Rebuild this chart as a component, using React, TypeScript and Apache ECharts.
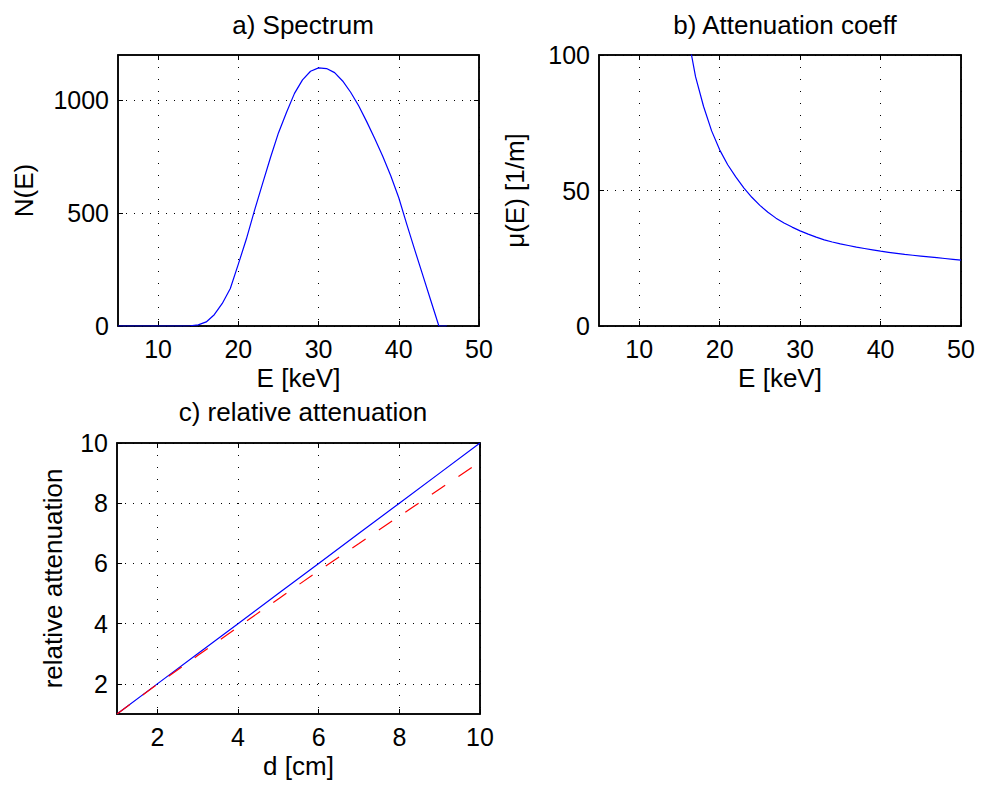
import React, { useEffect, useRef } from "react";
import * as echarts from "echarts";

// a) Spectrum
const energyA = [5, 6, 7, 8, 9, 10, 11, 12, 13, 14, 15, 16, 17, 18, 19, 20, 21, 22, 23, 24, 25, 26, 27, 28, 29, 30, 31, 32, 33, 34, 35, 36, 37, 38, 39, 40, 41, 42, 43, 44, 45, 46];
const spectrum = [0, 0, 0, 0, 0, 0, 0, 0, 0, 1, 5, 18, 50, 100, 166, 274, 385, 510, 628, 745, 855, 945, 1030, 1090, 1128, 1143, 1140, 1122, 1085, 1035, 975, 905, 830, 752, 665, 568, 450, 336, 224, 112, 0, 0];

// b) Attenuation coeff
const energyB = [16, 17, 18, 19, 20, 21, 22, 23, 24, 25, 26, 27, 28, 29, 30, 31, 32, 33, 34, 35, 36, 37, 38, 39, 40, 41, 42, 43, 44, 45, 46, 47, 48, 49, 50];
const mu = [108, 92, 81, 72, 65, 59.5, 55, 51, 47.5, 44.5, 42, 39.8, 38, 36.5, 35.1, 33.9, 32.8, 31.8, 31, 30.3, 29.7, 29.1, 28.6, 28.1, 27.6, 27.2, 26.8, 26.4, 26.1, 25.8, 25.5, 25.2, 24.9, 24.6, 24.3];

// c) relative attenuation
const depth = [1, 2, 3, 4, 5, 6, 7, 8, 9, 10];
const attenMono = [1, 2, 3, 4, 5, 6, 7, 8, 9, 10];
const attenPoly = [1, 1.99, 2.94, 3.89, 4.82, 5.76, 6.66, 7.57, 8.47, 9.37];

// ticks
const eTicks = [10, 20, 30, 40, 50];
const nTicks = [0, 500, 1000];
const muTicks = [0, 50, 100];
const dTicks = [2, 4, 6, 8, 10];
const relTicks = [2, 4, 6, 8, 10];

const FONT = "'Liberation Sans', Arial, Helvetica, sans-serif";
const FS = 25;
const TFS = 26;

export default function App() {
  const ref = useRef<HTMLDivElement>(null);

  useEffect(() => {
    document.body.style.margin = "0";
    const chart = echarts.init(ref.current!, null, { renderer: "svg" });

    const frame = () => ({ show: true, onZero: false, lineStyle: { color: "#000", width: 1.5 } });
    const gridX = { show: true, lineStyle: { color: "#000", width: 1, type: [1, 11] as any } };
    const gridY = { show: true, lineStyle: { color: "#000", width: 1, type: [1, 7] as any } };
    const tick = (ticks: number[]) => ({ show: true, inside: true, length: 5, customValues: ticks, lineStyle: { color: "#000", width: 1 } });
    const fmt = (v: number) => String(v);

    const mkX = (gi: number, min: number, max: number, ticks: number[], name: string) => [
      {
        type: "value", gridIndex: gi, position: "bottom", min, max,
        axisLine: frame(),
        axisTick: tick(ticks),
        axisLabel: { show: true, customValues: ticks, formatter: fmt, color: "#000", fontSize: FS, fontFamily: FONT, margin: 10 },
        splitLine: gridX,
        name, nameLocation: "middle", nameGap: 39,
        nameTextStyle: { color: "#000", fontSize: TFS, fontFamily: FONT },
      },
      {
        type: "value", gridIndex: gi, position: "top", min, max, show: true,
        axisLine: frame(),
        axisTick: tick(ticks),
        axisLabel: { show: false },
        splitLine: { show: false },
      },
    ];
    const mkY = (gi: number, min: number, max: number, ticks: number[], name: string, gap: number) => [
      {
        type: "value", gridIndex: gi, position: "left", min, max,
        axisLine: frame(),
        axisTick: tick(ticks),
        axisLabel: { show: true, customValues: ticks, formatter: fmt, color: "#000", fontSize: FS, fontFamily: FONT, margin: 9 },
        splitLine: gridY,
        name, nameLocation: "middle", nameGap: gap, nameRotate: 90,
        nameTextStyle: { color: "#000", fontSize: TFS, fontFamily: FONT },
      },
      {
        type: "value", gridIndex: gi, position: "right", min, max, show: true,
        axisLine: frame(),
        axisTick: tick(ticks),
        axisLabel: { show: false },
        splitLine: { show: false },
      },
    ];

    const line = (name: string, xi: number, yi: number, data: number[][], color: string, type: any = "solid") => ({
      name, type: "line", xAxisIndex: xi, yAxisIndex: yi, data, showSymbol: false, symbol: "none",
      lineStyle: { color, width: 1.2, type }, clip: true, silent: true,
    });
    // empty anchor series so the mirrored (top/right) frame axes get rendered with their ticks
    const anchor = (xi: number, yi: number) => ({
      type: "line", xAxisIndex: xi, yAxisIndex: yi, data: [], silent: true, symbol: "none",
    });

    const gridBox = { show: true, borderColor: "#000", borderWidth: 1.5, backgroundColor: "transparent" };
    const titleStyle = { fontSize: TFS, fontWeight: "normal", color: "#000", fontFamily: FONT };
    const option: any = {
      animation: false,
      backgroundColor: "#fff",
      textStyle: { fontFamily: FONT },
      title: [
        { text: "a) Spectrum", left: 298, top: 7, textAlign: "center", textStyle: titleStyle },
        { text: "b) Attenuation coeff", left: 780, top: 7, textAlign: "center", textStyle: titleStyle },
        { text: "c) relative attenuation", left: 298, top: 394, textAlign: "center", textStyle: titleStyle },
      ],
      grid: [
        { left: 118, top: 55, width: 361, height: 271, ...gridBox },
        { left: 599, top: 55, width: 362, height: 271, ...gridBox },
        { left: 117, top: 443, width: 363, height: 271, ...gridBox },
      ],
      xAxis: [
        ...mkX(0, 5, 50, eTicks, "E [keV]"),
        ...mkX(1, 5, 50, eTicks, "E [keV]"),
        ...mkX(2, 1, 10, dTicks, "d [cm]"),
      ],
      yAxis: [
        ...mkY(0, 0, 1200, nTicks, "N(E)", 81),
        ...mkY(1, 0, 100, muTicks, "μ(E) [1/m]", 71),
        ...mkY(2, 1, 10, relTicks, "relative attenuation", 51),
      ],
      series: [
        line("N(E)", 0, 0, energyA.map((e, i) => [e, spectrum[i]]), "#0000ff"),
        line("μ(E)", 2, 2, energyB.map((e, i) => [e, mu[i]]), "#0000ff"),
        line("mono", 4, 4, depth.map((d, i) => [d, attenMono[i]]), "#0000ff"),
        line("poly", 4, 4, depth.map((d, i) => [d, attenPoly[i]]), "#ff0000", [16, 16]),
        anchor(1, 1),
        anchor(3, 3),
        anchor(5, 5),
      ],
    };
    chart.setOption(option);
    return () => chart.dispose();
  }, []);

  return (
    <div
      ref={ref}
      style={{ position: "absolute", left: 0, top: 0, width: 982, height: 787, background: "#fff" }}
    />
  );
}
